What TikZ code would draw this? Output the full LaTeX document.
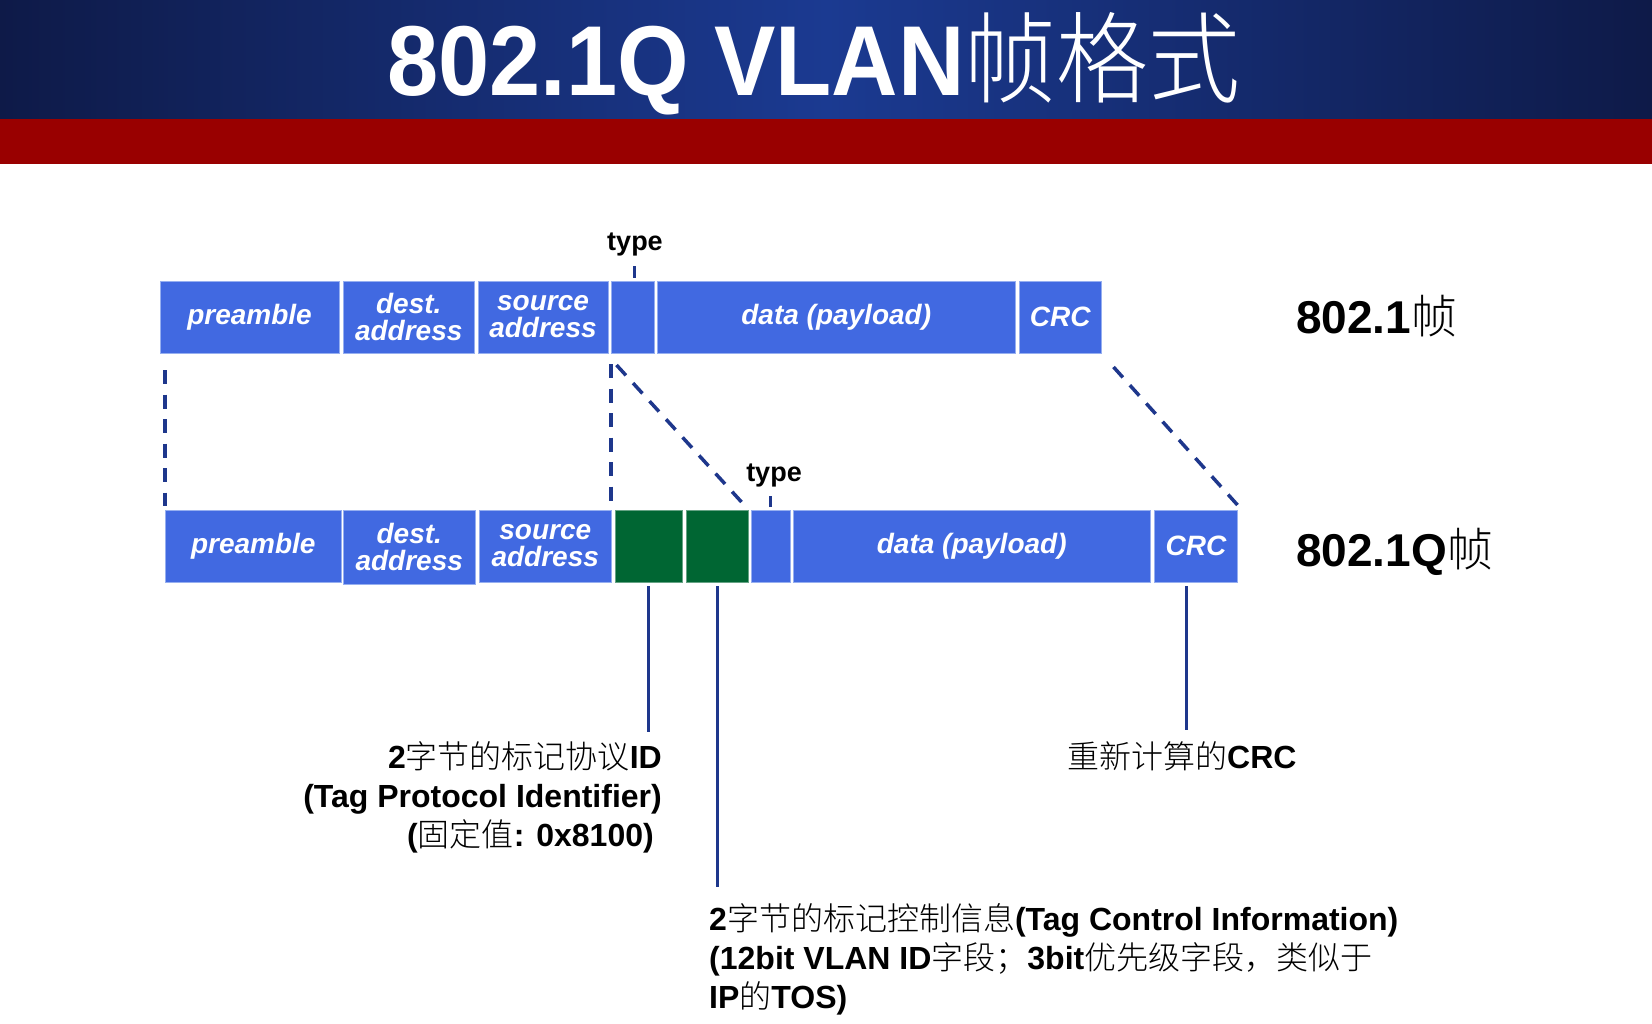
\documentclass[tikz,border=0pt]{standalone}
\usepackage{graphicx}
\usepackage{fontspec}
\setmainfont{Liberation Sans}
\newfontfamily\cjkfont{Noto Sans CJK SC Light}
\newcommand\zh[1]{{\cjkfont\mdseries #1}}
\usetikzlibrary{calc}

\definecolor{boxblue}{RGB}{65,105,225}
\definecolor{boxedge}{RGB}{150,175,240}
\definecolor{taggreen}{RGB}{0,102,51}
\definecolor{navy}{RGB}{30,55,140}
\definecolor{banddark}{RGB}{14,26,72}
\definecolor{bandmid}{RGB}{27,58,145}
\definecolor{bandred}{RGB}{153,0,0}

\begin{document}
\begin{tikzpicture}[x=1pt,y=-1pt,
  field/.style={fill=boxblue, draw=boxedge, line width=0.8pt, inner sep=0pt,
    outer sep=0pt, anchor=north west, minimum height=72pt, text=white,
    align=center, font=\fontsize{28}{27}\selectfont\bfseries\itshape},
  tagfield/.style={field, fill=taggreen, draw=taggreen!60!white},
  guide/.style={draw=navy, line width=3.5pt, dash pattern=on 14pt off 10.5pt},
  lead/.style={draw=navy, line width=3pt},
  typetick/.style={draw=navy, line width=3pt},
  note/.style={inner sep=0pt, font=\fontsize{32}{39}\selectfont\bfseries},
  framename/.style={inner sep=0pt, anchor=base west, font=\fontsize{46}{46}\selectfont\bfseries},
  typename/.style={inner sep=0pt, anchor=base, font=\fontsize{27}{27}\selectfont\bfseries}]

\useasboundingbox (0,0) rectangle (1652,1024);
\fill[white] (0,0) rectangle (1652,1024);

% title bands
\shade[left color=banddark, right color=banddark, middle color=bandmid] (0,0) rectangle (1652,119);
\fill[bandred] (0,119) rectangle (1652,164);
\node[anchor=base, inner sep=0pt, text=white, font=\fontsize{92}{92}\selectfont\bfseries] (title) at (814,96) {\scalebox{1}[1.08]{802.1Q VLAN\zh{帧格式}}};

% 802.1 frame
\node[field, minimum width=179pt]   (p1)  at (160,281)   {preamble};
\node[field, minimum width=130.5pt] (d1)  at (343.5,281) {dest.\\address};
\node[field, minimum width=130pt]   (s1)  at (478,281)   {source\\address};
\node[field, minimum width=43.5pt]  (t1)  at (611,281)   {};
\node[field, minimum width=357.5pt] (da1) at (657.5,281) {data (payload)};
\node[field, minimum width=82.5pt]  (c1)  at (1019,281)  {CRC};

\node[typename] (ty1) at (635,251) {type};
\draw[typetick] ([xshift=2pt,yshift=3pt]t1.north) -- ([xshift=2pt,yshift=15pt]t1.north);
\node[framename] (f1) at (1296,334) {802.1\zh{帧}};

% 802.1Q frame
\node[field, minimum width=176.5pt] (p2)  at (165,510)   {preamble};
\node[field, minimum width=131.5pt, minimum height=74pt] (d2) at (343.5,510) {dest.\\address};
\node[field, minimum width=131.5pt] (s2)  at (479.5,510) {source\\address};
\node[tagfield, minimum width=66.5pt] (g1) at (615.5,510) {};
\node[tagfield, minimum width=62.5pt] (g2) at (686,510)   {};
\node[field, minimum width=38.5pt]  (t2)  at (751.5,510) {};
\node[field, minimum width=356.5pt] (da2) at (793.5,510) {data (payload)};
\node[field, minimum width=83pt]    (c2)  at (1154.5,510) {CRC};

\node[typename] (ty2) at (774,481) {type};
\draw[typetick] ([yshift=3pt]t2.north) -- ([yshift=14pt]t2.north);
\node[framename] (f2) at (1296,566) {802.1Q\zh{帧}};

% correspondence between the two frames
\draw[guide] ([yshift=-17pt]p1.south -| p2.west) -- ([yshift=4pt]p2.north west);
\draw[guide] ([yshift=-11pt]s1.south -| s2.east) -- ([yshift=9pt]s2.north east);
\draw[guide] ([xshift=5.5pt,yshift=-12pt]t1.south west) -- ([xshift=-7pt,yshift=8pt]g2.north east);
\draw[guide] ([xshift=12pt,yshift=-14pt]c1.south east) -- ([yshift=5pt]c2.north east);

% leaders to the explanations
\draw[lead] ([yshift=-4pt]g1.south) -- ([yshift=-150pt]g1.south);
\draw[lead] ([yshift=-4pt]g2.south) -- ([yshift=-305pt]g2.south);
\draw[lead] ([xshift=-10pt,yshift=-4pt]c2.south) -- ([xshift=-10pt,yshift=-148pt]c2.south);

% explanations
\node[note, anchor=base east] (tpid1) at (662,768) {2\zh{字节的标记协议}ID};
\node[note, anchor=base east] (tpid2) at (662,807) {(Tag Protocol Identifier)};
\node[note, anchor=base east] (tpid3) at (654,846) {(\zh{固定值}: 0x8100)};

\node[note, anchor=base west] (crcn) at (1067,768) {\zh{重新计算的}CRC};

\node[note, anchor=base west] (tci1) at (709,930) {2\zh{字节的标记控制信息}(Tag Control Information)};
\node[note, anchor=base west] (tci2) at (709,969) {(12bit VLAN ID\zh{字段；}3bit\zh{优先级字段，类似于}};
\node[note, anchor=base west] (tci3) at (709,1008) {IP\zh{的}TOS)};
\end{tikzpicture}
\end{document}
